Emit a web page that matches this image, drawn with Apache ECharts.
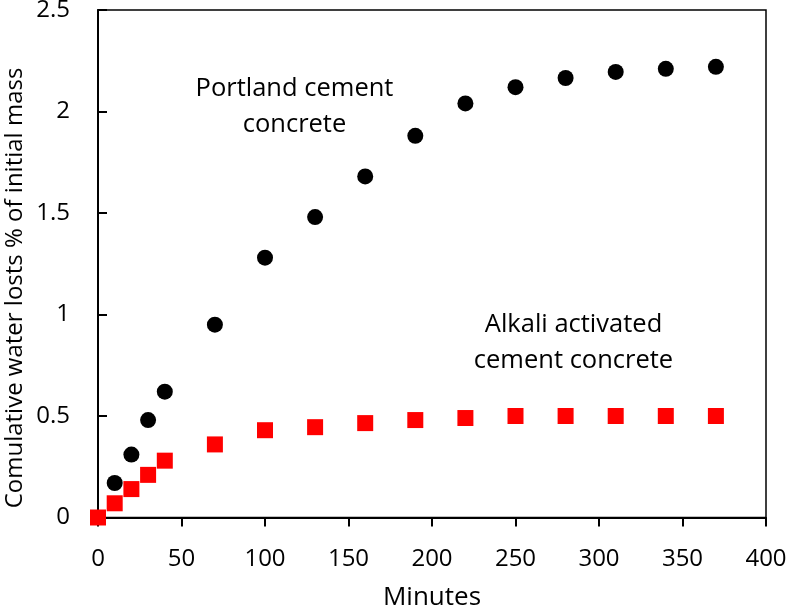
<!DOCTYPE html>
<html><head><meta charset="utf-8">
<script src="https://cdn.jsdelivr.net/npm/echarts@6/dist/echarts.min.js"></script>
<style>html,body{margin:0;padding:0;background:#fff}#c{width:787px;height:605px}</style>
</head><body><div id="c"></div>
<script>
const minutes = [0, 10, 20, 30, 40, 70, 100, 130, 160, 190, 220, 250, 280, 310, 340, 370];
const portland = [null, 0.17, 0.31, 0.48, 0.62, 0.95, 1.28, 1.48, 1.68, 1.88, 2.04, 2.12, 2.165, 2.195, 2.21, 2.22];
const alkali = [0, 0.07, 0.14, 0.21, 0.28, 0.36, 0.43, 0.445, 0.465, 0.48, 0.49, 0.5, 0.5, 0.5, 0.5, 0.5];
const xTicks = {min: 0, max: 400, interval: 50};
const yTicks = {min: 0, max: 2.5, interval: 0.5};
const xTitle = 'Minutes';
const yTitle = 'Comulative water losts % of initial mass';
const notes = ['Portland cement\nconcrete', 'Alkali activated\ncement concrete'];
const font = '"Open Sans", "Noto Sans", sans-serif';

const chart = echarts.init(document.getElementById('c'));
const pair = (vals) => minutes.map((m, i) => vals[i] == null ? null : [m, vals[i]]).filter(d => d);
chart.setOption({
  animation: false,
  grid: {left: 98, top: 10, right: 21, bottom: 87.5, outerBoundsMode: 'none', containLabel: false,
         show: true, borderColor: '#000', borderWidth: 1.5, backgroundColor: 'transparent'},
  xAxis: {
    type: 'value', min: xTicks.min, max: xTicks.max, interval: xTicks.interval,
    name: xTitle, nameLocation: 'middle', nameGap: 67,
    nameTextStyle: {fontFamily: font, fontSize: 26, color: '#000'},
    axisLine: {show: true, lineStyle: {color: '#000', width: 2}},
    axisTick: {show: true, inside: false, length: 9, lineStyle: {color: '#000', width: 2}},
    axisLabel: {fontFamily: font, fontSize: 24, color: '#000', margin: 30},
    splitLine: {show: false}
  },
  yAxis: {
    type: 'value', min: yTicks.min, max: yTicks.max, interval: yTicks.interval,
    axisLine: {show: true, lineStyle: {color: '#000', width: 2}},
    axisTick: {show: true, inside: true, length: 9, lineStyle: {color: '#000', width: 2}},
    axisLabel: {fontFamily: font, fontSize: 24, color: '#000', margin: 28},
    splitLine: {show: false}
  },
  graphic: [
    {type: 'text', x: 15, y: 288, rotation: Math.PI / 2,
     style: {text: yTitle, font: '24px ' + font, fill: '#000', align: 'center', verticalAlign: 'middle', textAlign: 'center', textVerticalAlign: 'middle'}},
    {type: 'text', x: 294.5, y: 71,
     style: {text: notes[0], font: '25.5px ' + font, fill: '#000', align: 'center', verticalAlign: 'top', textAlign: 'center', textVerticalAlign: 'top', lineHeight: 36}},
    {type: 'text', x: 573.5, y: 307,
     style: {text: notes[1], font: '25.5px ' + font, fill: '#000', align: 'center', verticalAlign: 'top', textAlign: 'center', textVerticalAlign: 'top', lineHeight: 36}}
  ],
  series: [
    {type: 'scatter', name: 'Portland', data: pair(portland), symbol: 'circle', symbolSize: 16, itemStyle: {color: '#000', opacity: 1}},
    {type: 'scatter', name: 'Alkali', data: pair(alkali), symbol: 'rect', symbolSize: 16, itemStyle: {color: '#ff0000', opacity: 1}}
  ]
});
</script></body></html>
